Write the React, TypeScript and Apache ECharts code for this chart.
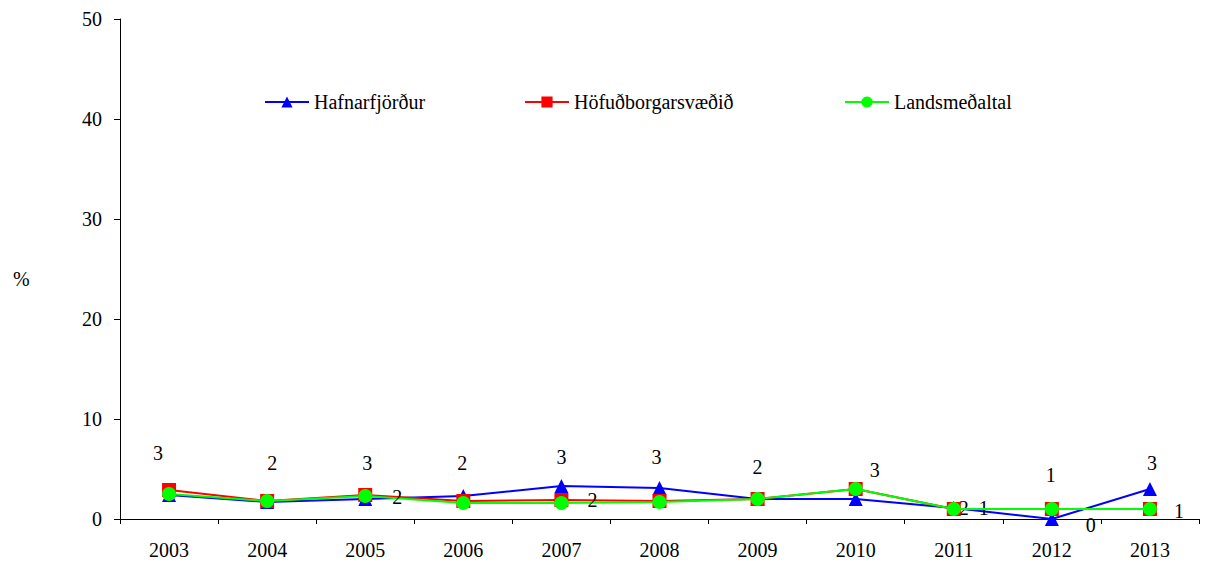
import React, { useEffect, useRef } from "react";
import * as echarts from "echarts";

const years = ["2003", "2004", "2005", "2006", "2007", "2008", "2009", "2010", "2011", "2012", "2013"];
const seriesNames = ["Hafnarfjörður", "Höfuðborgarsvæðið", "Landsmeðaltal"];
const hafnarfjordur = [2.4, 1.7, 2.0, 2.3, 3.3, 3.1, 2.0, 2.0, 1.1, 0.0, 3.0];
const hofudborgarsvaedid = [2.9, 1.8, 2.4, 1.8, 1.9, 1.8, 2.0, 3.0, 1.0, 1.0, 1.0];
const landsmedaltal = [2.5, 1.8, 2.3, 1.6, 1.6, 1.7, 2.0, 3.0, 1.0, 1.0, 1.0];

// printed data labels (as shown in the chart), null = no label
const hafnLabels = [null, "2", null, "2", "3", "3", "2", null, "2", "0", "3"];
const hofLabels = ["3", null, "3", null, null, null, null, "3", "1", "1", "1"];
const landsLabels = [null, null, "2", null, "2", null, null, null, null, null, null];

// label offsets (styling)
const hafnOffsets: Record<number, [number, number]> = {
  1: [5, -39], 3: [-1, -33], 4: [0, -29], 5: [-3, -31], 6: [0, -32], 8: [10, 0], 9: [39, 6], 10: [2, -26],
};
const hofOffsets: Record<number, [number, number]> = {
  0: [-11, -37], 2: [2, -32], 7: [19, -19], 8: [30, -1], 9: [-1, -34], 10: [29, 2],
};
const landsOffsets: Record<number, [number, number]> = {
  2: [32, 1], 4: [31, -3],
};

const FONT = "Liberation Serif, Times New Roman, serif";
const legendLefts = [259, 519, 839];

function buildData(values: number[], labels: (string | null)[], offsets: Record<number, [number, number]>) {
  return values.map((v, i) => {
    const t = labels[i];
    if (t == null) return { value: v };
    return {
      value: v,
      label: {
        show: true,
        position: "inside",
        offset: offsets[i] || [0, -25],
        formatter: t,
        color: "#000",
        fontFamily: FONT,
        fontSize: 20,
        align: "center",
        verticalAlign: "middle",
      },
    };
  });
}

export default function App() {
  const ref = useRef<HTMLDivElement>(null);
  useEffect(() => {
    if (!ref.current) return;
    const chart = echarts.init(ref.current, undefined, { renderer: "svg" });
    chart.setOption({
      animation: false,
      backgroundColor: "#fff",
      textStyle: { fontFamily: FONT },
      grid: { left: 120, right: 7, top: 19, bottom: 49 },
      graphic: [
        {
          type: "text",
          left: 13,
          top: 269,
          style: { text: "%", fontFamily: FONT, fontSize: 20, fill: "#000" },
        },
      ],
      legend: seriesNames.map((n, i) => ({
        left: legendLefts[i],
        top: 87,
        itemWidth: 44,
        itemHeight: 14,
        itemGap: 6,
        textStyle: { fontFamily: FONT, fontSize: 20, color: "#000" },
        data: [n],
      })),
      xAxis: {
        type: "category",
        data: years,
        boundaryGap: true,
        axisLine: { lineStyle: { color: "#000", width: 1 } },
        axisTick: { show: true, interval: 0, length: 5, inside: false, alignWithLabel: false, lineStyle: { color: "#000" } },
        axisLabel: { color: "#000", fontSize: 20, fontFamily: FONT, margin: 21, interval: 0 },
        splitLine: { show: false },
      },
      yAxis: {
        type: "value",
        min: 0,
        max: 50,
        interval: 10,
        axisLine: { show: true, lineStyle: { color: "#000", width: 1 } },
        axisTick: { show: true, length: 6, lineStyle: { color: "#000" } },
        axisLabel: { color: "#000", fontSize: 20, fontFamily: FONT, margin: 18 },
        splitLine: { show: false },
      },
      series: [
        {
          name: seriesNames[0],
          type: "line",
          data: buildData(hafnarfjordur, hafnLabels, hafnOffsets),
          symbol: "triangle",
          symbolSize: 14,
          lineStyle: { color: "#0000ff", width: 2 },
          itemStyle: { color: "#0000ff" },
          z: 2,
        },
        {
          name: seriesNames[1],
          type: "line",
          data: buildData(hofudborgarsvaedid, hofLabels, hofOffsets),
          symbol: "rect",
          symbolSize: 14,
          lineStyle: { color: "#ff0000", width: 2 },
          itemStyle: { color: "#ff0000" },
          z: 3,
        },
        {
          name: seriesNames[2],
          type: "line",
          data: buildData(landsmedaltal, landsLabels, landsOffsets),
          symbol: "circle",
          symbolSize: 14,
          lineStyle: { color: "#00ff00", width: 2 },
          itemStyle: { color: "#00ff00" },
          z: 4,
        },
      ],
    });
    return () => chart.dispose();
  }, []);
  return (
    <div
      ref={ref}
      style={{ position: "fixed", left: 0, top: 0, width: 1206, height: 568, background: "#fff" }}
    />
  );
}
